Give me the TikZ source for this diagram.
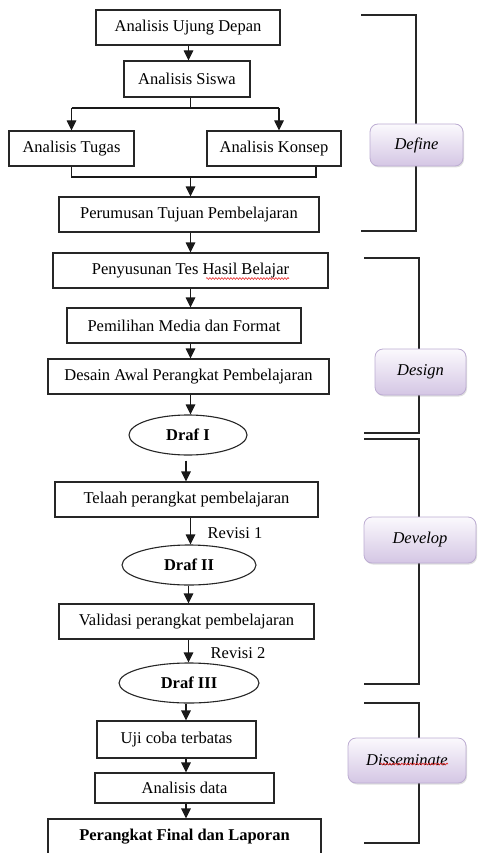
\documentclass[tikz,border=0pt]{standalone}
\usepackage{fontspec}
\setmainfont{Liberation Serif}
\usetikzlibrary{arrows.meta,shapes.geometric,shadows,decorations.pathmorphing}
\definecolor{phtop}{RGB}{251,249,253}
\definecolor{phbot}{RGB}{212,198,228}
\definecolor{phdraw}{RGB}{188,172,210}
\definecolor{squig}{RGB}{230,40,40}
\tikzset{
  txt/.style={font=\fontsize{16.5}{18}\selectfont, inner sep=0pt},
  box/.style={txt, draw=black!85, line width=1.1pt, rectangle},
  oval/.style={txt, draw=black!85, line width=1.1pt, ellipse, font=\fontsize{16.5}{18}\selectfont\bfseries},
  phase/.style={txt, draw=phdraw, line width=0.8pt, rounded corners=8pt,
    top color=phtop, bottom color=phbot, font=\fontsize{16.5}{18}\selectfont\itshape,
    drop shadow={opacity=0.25, shadow xshift=1pt, shadow yshift=-1.5pt}},
  conn/.style={line width=1.1pt, draw=black!90},
  arr/.style={conn, -{Triangle[length=10pt,width=9.5pt]}},
  brk/.style={line width=1.1pt, draw=black!85},
  squiggle/.style={draw=squig, line width=0.6pt, decorate, decoration={snake, amplitude=0.9pt, segment length=3pt}},
}
\begin{document}
\begin{tikzpicture}[x=1pt, y=-1pt]
\useasboundingbox (0,0) rectangle (477,853);
\begin{scope}
\clip (0,0) rectangle (477,853);
% brackets
\draw[brk] (361,15) -- (416,15) -- (416,231) -- (361,231);
\draw[brk] (364,258) -- (419,258) -- (419,433) -- (364,433);
\draw[brk] (364,439) -- (419,439) -- (419,684) -- (364,684);
\draw[brk] (364,703) -- (419,703) -- (419,843) -- (364,843);
% phase boxes
\node[phase, minimum width=93pt, minimum height=42pt] (define) at (416.5,145) {Define};
\node[phase, minimum width=91pt, minimum height=46pt] (design) at (420.5,372) {Design};
\node[phase, minimum width=112pt, minimum height=46pt] (develop) at (420,540) {Develop};
\node[phase, minimum width=118pt, minimum height=45pt] (dissem) at (407,760.5) {Disseminate};
\draw[squiggle] (380,764) -- (448,764);
% main nodes
\node[box, minimum width=184pt, minimum height=35pt] (ujung) at (188,27.5) {Analisis Ujung Depan};
\node[box, minimum width=126pt, minimum height=36pt] (siswa) at (187,79) {Analisis Siswa};
\node[box, minimum width=125pt, minimum height=35pt] (tugas) at (71.5,148.5) {Analisis Tugas};
\node[box, minimum width=134pt, minimum height=35pt] (konsep) at (274,148.5) {Analisis Konsep};
\node[box, minimum width=260pt, minimum height=35pt] (rumus) at (189,214.5) {Perumusan Tujuan Pembelajaran};
\node[box, minimum width=275pt, minimum height=35pt] (susun) at (190.5,270.5) {Penyusunan Tes Hasil Belajar};
\draw[squiggle] (206,278.5) -- (289,278.5);
\node[box, minimum width=234pt, minimum height=35pt] (pilih) at (184,325.5) {Pemilihan Media dan Format};
\node[box, minimum width=281pt, minimum height=35pt] (desain) at (188.5,376.5) {Desain Awal Perangkat Pembelajaran};
\node[oval, minimum width=118pt, minimum height=40pt] (draf1) at (188,435) {Draf I};
\node[box, minimum width=263pt, minimum height=35pt] (telaah) at (186.5,499.5) {Telaah perangkat pembelajaran};
\node[oval, minimum width=134pt, minimum height=40pt] (draf2) at (189,565) {Draf II};
\node[box, minimum width=255pt, minimum height=35pt] (valid) at (186.5,621.5) {Validasi perangkat pembelajaran};
\node[oval, minimum width=140pt, minimum height=40pt] (draf3) at (189,683) {Draf III};
\node[box, minimum width=159pt, minimum height=37pt] (uji) at (176.5,739.5) {Uji coba terbatas};
\node[box, minimum width=179pt, minimum height=30pt] (data) at (184.5,788) {Analisis data};
\node[box, minimum width=273pt, minimum height=36pt, font=\fontsize{16.5}{18}\selectfont\bfseries] (final) at (184.5,837) {Perangkat Final dan Laporan};
% labels
\node[txt] (rev1) at (235,533) {Revisi 1};
\node[txt] (rev2) at (238,653) {Revisi 2};
% connector coordinates
\coordinate (ca) at (190.5,0);
\coordinate (cb) at (188.5,0);
\coordinate (cc) at (186,0);
\coordinate (split) at (190.5,108);
\coordinate (splitL) at (71.5,108);
\coordinate (splitR) at (279,108);
\coordinate (mergeL) at (71.5,177);
\coordinate (mergeR) at (316,177);
\coordinate (merge) at (190.5,177);
% connectors
\draw[arr] (ujung.south -| cb) -- (siswa.north -| cb);
\draw[conn] (siswa.south -| ca) -- (split);
\draw[conn] (splitL) -- (splitR);
\draw[arr] (splitL) -- (tugas.north);
\draw[arr] (splitR) -- (splitR |- konsep.north);
\draw[conn] (tugas.south) -- (mergeL) -- (mergeR) -- (mergeR |- konsep.south);
\draw[arr] (merge) -- (rumus.north -| ca);
\draw[arr] (rumus.south -| ca) -- (susun.north -| ca);
\draw[arr] (susun.south -| ca) -- (pilih.north -| ca);
\draw[arr] (pilih.south -| ca) -- (desain.north -| ca);
\draw[arr] (desain.south -| ca) -- (draf1.north -| ca);
\draw[arr] ([yshift=-5pt]draf1.south -| cc) -- (telaah.north -| cc);
\draw[arr] (telaah.south -| ca) -- (draf2.north -| ca);
\draw[arr] (draf2.south -| cb) -- (valid.north -| cb);
\draw[arr] (valid.south -| cb) -- (draf3.north -| cb);
\draw[arr] (draf3.south -| cc) -- (uji.north -| cc);
\draw[arr] (uji.south -| cc) -- (data.north -| cc);
\draw[arr] (data.south -| cc) -- (final.north -| cc);
\end{scope}
\end{tikzpicture}
\end{document}
